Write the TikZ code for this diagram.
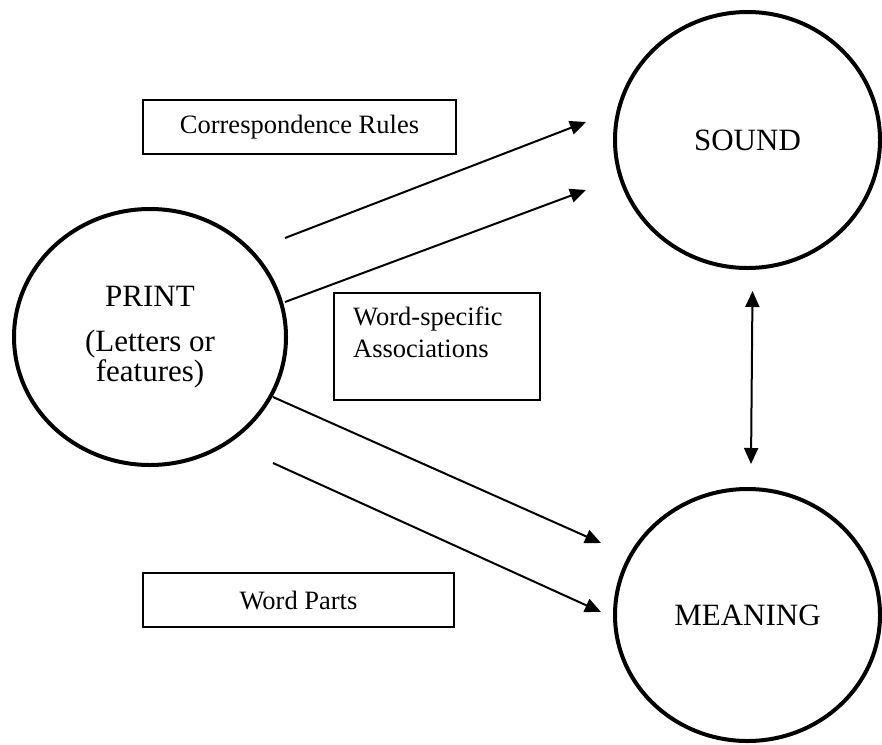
\documentclass[tikz,border=0pt]{standalone}
\usepackage{fontspec}
\setmainfont{Liberation Serif}
\usetikzlibrary{arrows.meta,shapes.geometric}
\begin{document}
\begin{tikzpicture}[x=1pt,y=-1pt,
  bubble/.style={ellipse, draw, line width=4pt, inner sep=0pt, align=center,
    font=\fontsize{31}{28}\selectfont},
  labelbox/.style={rectangle, draw, line width=2pt, inner sep=0pt,
    font=\fontsize{26.5}{32}\selectfont},
  small/.style={font=\fontsize{26.5}{32}\selectfont, inner sep=0pt, align=left},
  link/.style={line width=2pt, -{Triangle[length=16pt,width=14pt]}},
  twoway/.style={line width=2pt, {Triangle[length=16pt,width=14pt]}-{Triangle[length=16pt,width=14pt]}}]
\useasboundingbox (0,0) rectangle (882,744);

% the three bubbles
\node[bubble, minimum width=272, minimum height=256] (print) at (150,337)
  {PRINT\\[17pt](Letters or\\features)};
\node[bubble, minimum width=265, minimum height=256] (sound) at (747.5,140) {SOUND};
\node[bubble, minimum width=265, minimum height=252] (meaning) at (747.5,615) {MEANING};

% label boxes
\node[labelbox, minimum width=313, minimum height=54] (rules) at (299.5,127)
  {Correspondence Rules};
\node[labelbox, minimum width=311, minimum height=54] (parts) at (298.5,600)
  {Word Parts};
\node[labelbox, minimum width=206, minimum height=107] (wsbox) at (437,346.5) {};
\node[small, anchor=north west] (wslabel) at (353,307) {Word-specific\\Associations};

% connector ends
\coordinate (a1s) at (285,238);  \coordinate (a1e) at (586,122);
\coordinate (a2s) at (285,302);  \coordinate (a2e) at (586,190);
\coordinate (a3s) at (273,397);  \coordinate (a3e) at (601,543);
\coordinate (a4s) at (273,463);  \coordinate (a4e) at (601,612);
\coordinate (sm1) at (752.5,291);  \coordinate (sm2) at (751,464);

% connectors
\draw[link] (a1s) -- (a1e);
\draw[link] (a2s) -- (a2e);
\draw[link] (a3s) -- (a3e);
\draw[link] (a4s) -- (a4e);
\draw[twoway] (sm1) -- (sm2);
\end{tikzpicture}
\end{document}
